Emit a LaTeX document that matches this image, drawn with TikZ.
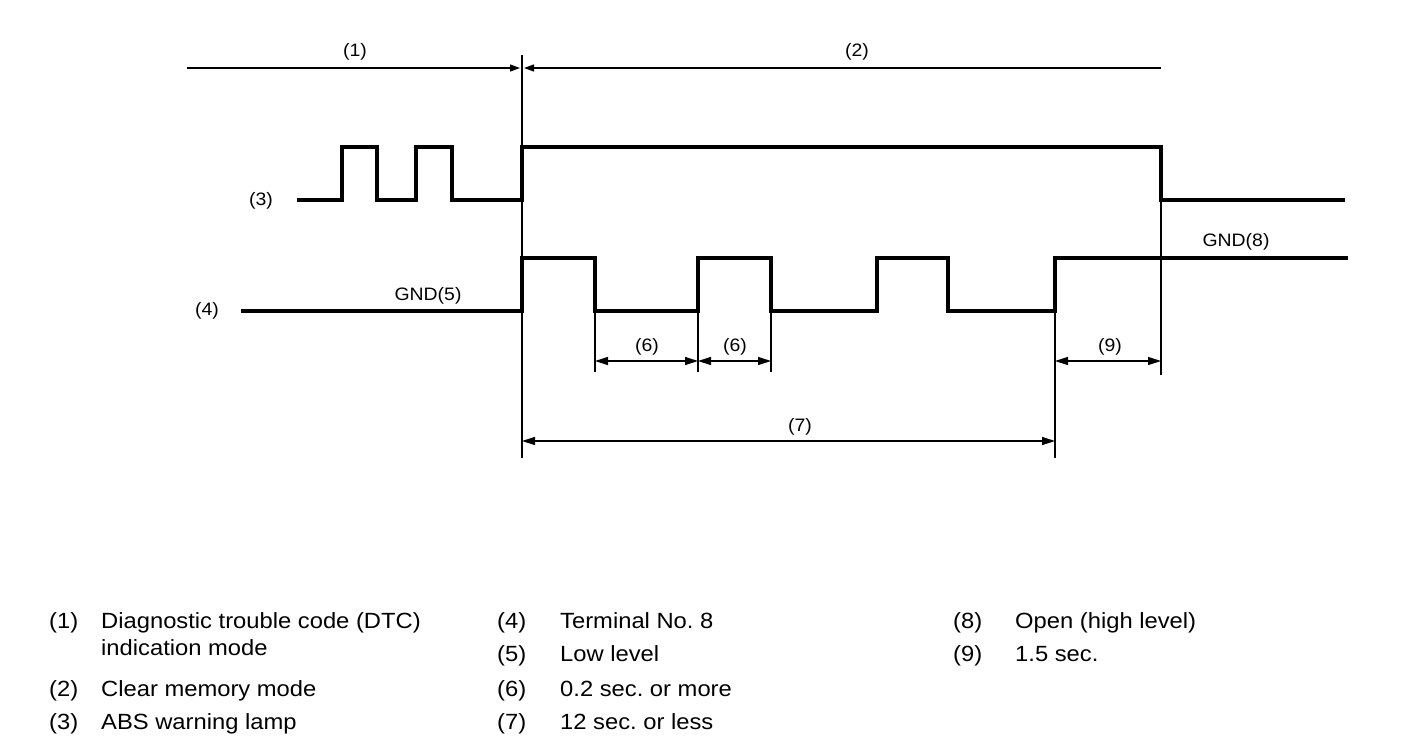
\documentclass[tikz,border=0pt]{standalone}
\usepackage{fontspec}
\setmainfont{Liberation Sans}
\newfontfamily\widefont[FakeStretch=1.08]{Liberation Sans}
\usetikzlibrary{arrows.meta}
\begin{document}
\begin{tikzpicture}[x=1pt,y=-1pt,
  sig/.style={line width=4.2pt, line join=miter},
  thinl/.style={line width=1.2pt},
  dim/.style={line width=1.2pt, {Triangle[length=13pt,width=8pt]}-{Triangle[length=13pt,width=8pt]}},
  topar/.style={line width=1.2pt, -{Triangle[length=10pt,width=7pt]}, shorten >=2pt},
  lbl/.style={font=\widefont\fontsize{18}{21}\selectfont, inner sep=0pt},
  leg/.style={font=\widefont\fontsize{22}{25}\selectfont\frenchspacing, inner sep=0pt, anchor=base west}]
\useasboundingbox (0,0) rectangle (1408,750);

% thin vertical reference lines
\draw[thinl] (522,55) -- (522,458);
\draw[thinl] (595,311) -- (595,372);
\draw[thinl] (698,311) -- (698,372);
\draw[thinl] (771,311) -- (771,372);
\draw[thinl] (1055,311) -- (1055,458);
\draw[thinl] (1161,200) -- (1161,375);

% top mode lines
\coordinate (t1) at (187,68);
\coordinate (tm) at (522,68);
\coordinate (t2) at (1161,68);
\draw[topar] (t1) -- (tm);
\draw[topar] (t2) -- (tm);
\node[lbl] (l1) at (355,52) {(1)};
\node[lbl] (l2) at (857,52) {(2)};

% signal (3)
\draw[sig] (297,200) -- (342,200) -- (342,147) -- (377,147) -- (377,200) -- (416,200) -- (416,147) -- (452,147) -- (452,200) -- (522,200) -- (522,147) -- (1161,147) -- (1161,200) -- (1345,200);
\node[lbl] (l3) at (261,201) {(3)};

% signal (4)
\draw[sig] (241,311) -- (522,311) -- (522,258) -- (595,258) -- (595,311) -- (698,311) -- (698,258) -- (771,258) -- (771,311) -- (877,311) -- (877,258) -- (948,258) -- (948,311) -- (1055,311) -- (1055,258) -- (1348,258);
\node[lbl] (l4) at (207,311) {(4)};
\node[lbl] (g5) at (428,296) {GND(5)};
\node[lbl] (g8) at (1236,242) {GND(8)};

% dimensions
\coordinate (d6a) at (595,361);
\coordinate (d6b) at (698,361);
\coordinate (d6c) at (771,361);
\coordinate (d9a) at (1055,361);
\coordinate (d9b) at (1161,361);
\coordinate (d7a) at (522,441);
\coordinate (d7b) at (1055,441);
\draw[dim] (d6a) -- (d6b);
\draw[dim] (d6b) -- (d6c);
\draw[dim] (d9a) -- (d9b);
\draw[dim] (d7a) -- (d7b);
\node[lbl] (l6a) at (647,347) {(6)};
\node[lbl] (l6b) at (735,347) {(6)};
\node[lbl] (l9) at (1110,347) {(9)};
\node[lbl] (l7) at (800,427) {(7)};

% legend
\node[leg] (n1) at (49,628) {(1)};
\node[leg] (e1) at (101,628) {Diagnostic trouble code (DTC)};
\node[leg] (e1b) at (101,655) {indication mode};
\node[leg] (n2) at (49,696) {(2)};
\node[leg] (e2) at (101,696) {Clear memory mode};
\node[leg] (n3) at (49,729) {(3)};
\node[leg] (e3) at (101,729) {ABS warning lamp};

\node[leg] (n4) at (497,628) {(4)};
\node[leg] (e4) at (560,628) {Terminal No. 8};
\node[leg] (n5) at (497,661) {(5)};
\node[leg] (e5) at (560,661) {Low level};
\node[leg] (n6) at (497,696) {(6)};
\node[leg] (e6) at (560,696) {0.2 sec. or more};
\node[leg] (n7) at (497,729) {(7)};
\node[leg] (e7) at (560,729) {12 sec. or less};

\node[leg] (n8) at (953,628) {(8)};
\node[leg] (e8) at (1015,628) {Open (high level)};
\node[leg] (n9) at (953,661) {(9)};
\node[leg] (e9) at (1015,661) {1.5 sec.};
\end{tikzpicture}
\end{document}
